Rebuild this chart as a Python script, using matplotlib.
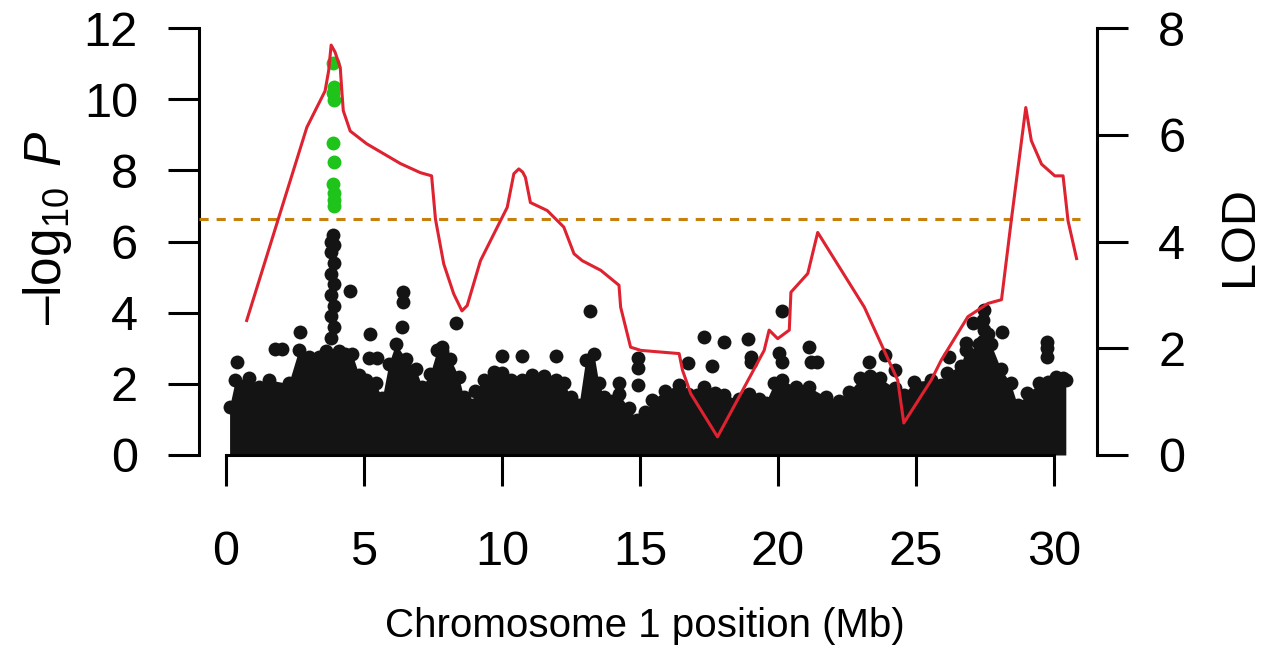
# Manhattan plot for chromosome 1 with LOD curve on a second axis
import numpy as np
import matplotlib
matplotlib.use("Agg")
from matplotlib import pyplot as plt

# --- data --------------------------------------------------------------
# solid band of SNPs: top edge of the black mass (Mb, -log10 P)
band_x = [0.13, 0.34, 0.82, 1.19, 1.55, 2.27, 2.64, 3.0, 3.36, 3.62, 4.1,
          4.33, 4.57, 4.82, 5.06, 5.42, 5.66, 5.9, 6.15, 6.51, 6.87, 7.11,
          7.4, 7.65, 7.83, 8.13, 8.43, 8.61, 8.86, 9.04, 9.34, 9.7, 10.01,
          10.31, 10.73, 11.09, 11.52, 11.94, 12.25, 12.49, 12.79, 13.03,
          13.33, 13.51, 13.7, 14.0, 14.24, 14.6, 14.9, 15.2, 15.44, 15.92,
          16.4, 16.74, 17.07, 17.32, 17.73, 18.04, 18.59, 18.95, 19.31,
          19.55, 19.86, 20.15, 20.64, 21.12, 21.73, 22.21, 22.58, 22.99,
          23.35, 23.71, 24.25, 24.56, 24.92, 25.53, 25.89, 26.13, 26.62,
          26.8, 27.1, 27.3, 27.6, 27.71, 28.07, 28.43, 28.68, 29.04, 29.47,
          29.77, 30.07, 30.31, 30.43]
band_top = [1.55, 2.3, 2.34, 2.1, 2.3, 2.2, 3.15, 2.95, 2.95, 3.1, 3.1,
            3.04, 3.04, 2.44, 2.3, 2.2, 1.78, 2.76, 3.32, 2.9, 2.62, 2.1,
            2.48, 3.14, 3.1, 2.9, 2.39, 1.83, 1.59, 2.0, 2.3, 2.53, 2.5,
            2.3, 2.3, 2.44, 2.4, 2.3, 2.2, 1.83, 1.6, 2.86, 3.04, 2.2, 1.83,
            1.7, 1.9, 1.5, 1.18, 1.4, 1.73, 2.0, 2.16, 1.9, 1.88, 2.1, 1.94,
            1.88, 1.75, 1.9, 1.75, 1.66, 2.2, 2.3, 2.1, 2.1, 1.83, 1.7, 1.97,
            2.34, 2.4, 2.34, 2.06, 1.88, 2.25, 2.3, 2.15, 2.5, 2.7, 3.15,
            3.0, 3.3, 3.6, 3.32, 2.62, 2.2, 1.59, 1.92, 2.2, 2.25, 2.39, 2.34,
            2.3]

# stacked SNPs forming the narrow columns (centres)
column_x = [3.80, 3.92, 3.80, 3.92, 3.80, 3.92, 3.80, 3.92, 3.80, 3.92,
            3.82, 3.86, 27.44, 27.48, 27.44, 27.48]
column_y = [3.3, 3.6, 3.9, 4.2, 4.5, 4.8, 5.1, 5.4, 5.7, 5.9, 6.0, 6.18,
            3.2, 3.5, 3.8, 4.07]

# single SNPs standing above the band (centres)
snp_x = [0.41, 1.78, 2.03, 2.69, 4.48, 5.2, 5.18, 5.48, 6.4, 6.4, 6.39,
         7.83, 8.35, 10.0, 10.73, 11.94, 13.19, 14.24, 14.93, 14.93, 14.93,
         16.74, 17.33, 17.6, 18.03, 18.92, 19.04, 19.04, 20.02, 20.13,
         20.15, 21.14, 21.2, 21.4, 23.3, 23.88, 24.25, 26.19, 26.8, 27.08,
         28.13, 29.74, 29.74, 29.74]
snp_y = [2.62, 2.98, 2.98, 3.45, 4.62, 3.39, 2.72, 2.72, 4.59, 4.31, 3.6,
         3.04, 3.7, 2.78, 2.78, 2.78, 4.05, 2.03, 2.72, 2.45, 1.97, 2.59,
         3.31, 2.5, 3.17, 3.25, 2.75, 2.6, 2.87, 4.06, 2.62, 3.04, 2.6,
         2.6, 2.62, 2.81, 2.39, 2.76, 3.15, 3.7, 3.47, 3.18, 3.0, 2.76]

# genome-wide significant SNPs (green)
sig_x = [3.89, 3.90, 3.89, 3.90, 3.89, 3.93, 3.89, 3.91, 3.92, 3.91]
sig_y = [11.03, 10.35, 10.17, 9.98, 8.78, 8.23, 7.62, 7.36, 7.17, 7.0]

threshold = 6.64

# LOD profile (right axis)
lod_x = [0.75, 2.93, 3.59, 3.72, 3.81, 3.95, 4.14, 4.2, 4.25, 4.5, 5.1,
         6.32, 7.04, 7.45, 7.59, 7.89, 8.25, 8.55, 8.74, 9.22, 9.83, 10.19,
         10.43, 10.61, 10.75, 10.85, 11.03, 11.64, 12.24, 12.61, 12.91,
         13.58, 14.24, 14.3, 14.66, 15.03, 16.42, 16.54, 16.84, 17.81, 19.5,
         19.68, 19.99, 20.41, 20.47, 21.08, 21.44, 23.13, 24.34, 24.56,
         25.55, 25.92, 26.88, 27.61, 28.1, 28.46, 28.98, 29.18, 29.55,
         30.03, 30.33, 30.51, 30.82]
lod = [2.52, 6.14, 6.82, 7.2, 7.68, 7.55, 7.26, 6.8, 6.45, 6.07, 5.83,
       5.46, 5.29, 5.23, 4.42, 3.58, 3.02, 2.7, 2.8, 3.64, 4.27, 4.64, 5.27,
       5.36, 5.3, 5.2, 4.73, 4.58, 4.27, 3.77, 3.64, 3.46, 3.18, 2.77, 2.02,
       1.96, 1.9, 1.59, 1.15, 0.34, 1.96, 2.34, 2.18, 2.34, 3.05, 3.4, 4.17,
       2.77, 1.4, 0.6, 1.4, 1.78, 2.59, 2.84, 2.91, 4.42, 6.51, 5.89, 5.45,
       5.23, 5.23, 4.39, 3.68]

x_ticks = [0, 5, 10, 15, 20, 25, 30]
p_ticks = [0, 2, 4, 6, 8, 10, 12]
lod_ticks = [0, 2, 4, 6, 8]

# --- style -------------------------------------------------------------
plt.rcParams['font.family'] = ['Liberation Sans', 'DejaVu Sans']
plt.rcParams['mathtext.fontset'] = 'custom'
plt.rcParams['mathtext.rm'] = 'Liberation Sans'
plt.rcParams['mathtext.it'] = 'Liberation Sans:italic'

DOT = 100         # marker area, points^2
DOT_R = 0.19      # dot radius in -log10 P units
black = '#141414'
green = '#1ec41a'
red = '#de2230'
orange = '#c8800c'


def style_axis(a, length=22, width=2.2, size=35, pad=22):
    a.tick_params(direction='out', length=length, width=width,
                  labelsize=size, pad=pad)


fig = plt.figure(figsize=(12.72, 6.46), dpi=100)
ax = fig.add_axes([199 / 1272, 1 - 455 / 646, 898 / 1272, 427 / 646])

# black mass of SNPs
band_c = np.array(band_top) - DOT_R
ax.fill_between(band_x, 0, band_c, color=black, lw=0, zorder=2)
ax.scatter(band_x, band_c, s=DOT, color=black, lw=0, zorder=2)
ax.scatter(column_x, column_y, s=DOT, color=black, lw=0, zorder=2)
ax.scatter(snp_x, snp_y, s=DOT, color=black, lw=0, zorder=2)
ax.scatter(sig_x, sig_y, s=DOT, color=green, lw=0, zorder=3)

ax.set_xlim(-0.978, 31.56)
ax.set_ylim(0, 12)
ax.plot([-0.978, 30.94], [threshold, threshold], color=orange, lw=2.2,
        dashes=(3, 2.6), zorder=4)

ax.set_xticks(x_ticks)
ax.set_yticks(p_ticks)
style_axis(ax)
ax.tick_params(axis='x', pad=32)
for s in ['top', 'right']:
    ax.spines[s].set_visible(False)
ax.spines['left'].set_bounds(0, 12)
ax.spines['bottom'].set_bounds(0, 30)
ax.spines['left'].set_linewidth(2.2)
ax.spines['bottom'].set_linewidth(2.2)

# LOD on the right
ax2 = ax.twinx()
ax2.plot(lod_x, lod, color=red, lw=2.2, zorder=5)
ax2.set_ylim(0, 8)
ax2.set_yticks(lod_ticks)
style_axis(ax2)
for s in ['top', 'left', 'bottom']:
    ax2.spines[s].set_visible(False)
ax2.spines['right'].set_bounds(0, 8)
ax2.spines['right'].set_linewidth(2.2)

fig.text(47 / 1272, 1 - 228 / 646, '$\u2013\\mathrm{log}_{10}\\;\\,P$',
         fontsize=37, rotation=90, ha='center', va='center')
fig.text(1240 / 1272, 1 - 236 / 646, 'LOD', fontsize=35, rotation=90,
         ha='center', va='center')
fig.text(645 / 1272, 1 - 637 / 646, 'Chromosome 1 position (Mb)',
         fontsize=29, ha='center', va='baseline')

fig.savefig('out.png', dpi=100)
